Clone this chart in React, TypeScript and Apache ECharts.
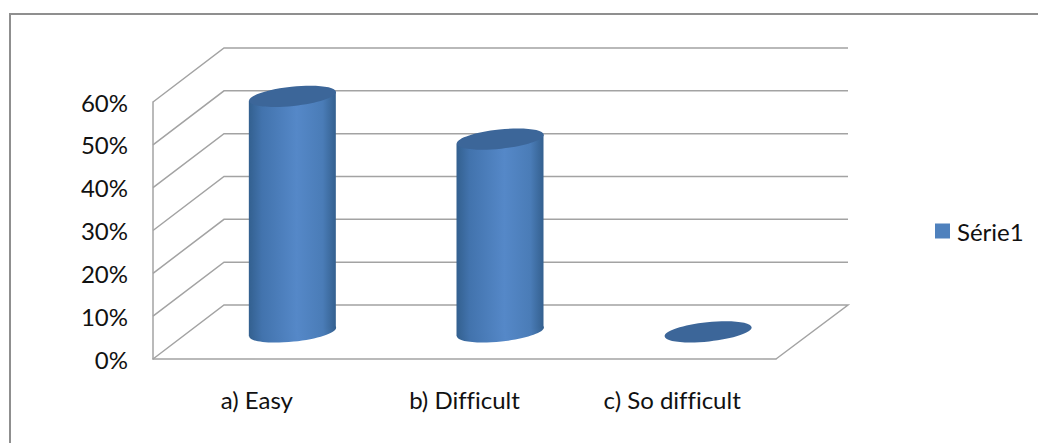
import React, { useEffect, useRef } from "react";
import * as echarts from "echarts";

const categories = ["a) Easy", "b) Difficult", "c) So difficult"];
const seriesName = "Série1";
const seriesValues = [0.55, 0.45, 0];
const gridTicks = [0, 0.1, 0.2, 0.3, 0.4, 0.5, 0.6];

const FONT = "Lato, 'Open Sans', sans-serif";
const DEPTH_X = 71;
const DEPTH_Y = -54;
const LINE = "#a3a3a3";

export default function App() {
  const ref = useRef<HTMLDivElement>(null);
  useEffect(() => {
    const chart = echarts.init(ref.current!, undefined, { renderer: "svg" });
    const bodyFill = () =>
      new echarts.graphic.LinearGradient(0, 0, 1, 0, [
        { offset: 0, color: "#33608f" },
        { offset: 0.15, color: "#4273ad" },
        { offset: 0.55, color: "#5588c8" },
        { offset: 0.85, color: "#4a7cb7" },
        { offset: 1, color: "#34608f" },
      ]);
    chart.setOption({
      animation: false,
      backgroundColor: "#ffffff",
      grid: { left: 153, right: 262, top: 102, bottom: 84 },
      xAxis: {
        type: "category",
        data: categories,
        axisLine: { show: true, lineStyle: { color: LINE, width: 1.5 } },
        axisTick: { show: false },
        axisLabel: { color: "#111", fontFamily: FONT, fontSize: 24, margin: 28 },
      },
      yAxis: {
        type: "value",
        min: 0,
        max: 0.6,
        interval: 0.1,
        axisLine: { show: true, lineStyle: { color: LINE, width: 1.5 } },
        axisTick: { show: false },
        splitLine: { show: false },
        axisLabel: {
          color: "#111",
          fontFamily: FONT,
          fontSize: 24,
          margin: 25,
          padding: [6, 0, 0, 0],
          formatter: (v: number) => `${Math.round(v * 100)}%`,
        },
      },
      legend: {
        data: [{ name: seriesName, icon: "rect" }],
        left: 930,
        top: 214,
        itemWidth: 15,
        itemHeight: 15,
        textStyle: { color: "#111", fontFamily: FONT, fontSize: 24, padding: [0, 0, 0, 2] },
      },
      graphic: [
        {
          type: "polyline",
          silent: true,
          shape: { points: [[10, 443], [10, 14], [1038, 14]] },
          style: { stroke: "#8f8f8f", lineWidth: 2, fill: "none" },
        },
      ],
      series: [
        {
          type: "custom",
          name: "walls",
          coordinateSystem: "cartesian2d",
          silent: true,
          clip: false,
          z: 1,
          data: gridTicks.map((t) => [0, t]),
          encode: { x: 0, y: 1 },
          renderItem: (_p: any, api: any) => {
            const v = api.value(1);
            const p = api.coord([0, v]);
            const x0 = p[0] - api.size([1, 0])[0] / 2;
            const xEnd = x0 + api.size([1, 0])[0] * categories.length;
            const pts = [
              [x0, p[1]],
              [x0 + DEPTH_X, p[1] + DEPTH_Y],
              [xEnd + DEPTH_X + 1, p[1] + DEPTH_Y],
            ];
            if (v === 0) pts.push([xEnd, p[1]]);
            return {
              type: "polyline",
              shape: { points: pts },
              style: { stroke: LINE, lineWidth: 1.5, fill: "none" },
            };
          },
        },
        {
          type: "custom",
          name: seriesName,
          coordinateSystem: "cartesian2d",
          clip: false,
          z: 2,
          itemStyle: { color: "#4f81bd" },
          data: seriesValues.map((v, i) => [i, v]),
          encode: { x: 0, y: 1 },
          renderItem: (_p: any, api: any) => {
            const i = api.value(0);
            const base = api.coord([i, 0]);
            const top = api.coord([i, api.value(1)]);
            const cx = base[0] + DEPTH_X / 2;
            const by = base[1] + DEPTH_Y / 2;
            const ty = top[1] + DEPTH_Y / 2;
            const rx = 43.7;
            const ry = 9.6;
            const rot = (6 * Math.PI) / 180;
            const hw = 43.5;
            const tilt = 4.3;
            const children: any[] = [];
            if (api.value(1) > 0) {
              children.push(
                {
                  type: "ellipse",
                  shape: { cx, cy: by, rx, ry },
                  rotation: rot,
                  originX: cx,
                  originY: by,
                  style: { fill: bodyFill() },
                },
                {
                  type: "polygon",
                  shape: {
                    points: [
                      [cx - hw, ty + tilt],
                      [cx + hw, ty - tilt],
                      [cx + hw, by - tilt],
                      [cx - hw, by + tilt],
                    ],
                  },
                  style: { fill: bodyFill() },
                }
              );
            }
            children.push({
              type: "ellipse",
              shape: { cx, cy: ty, rx, ry },
              rotation: rot,
              originX: cx,
              originY: ty,
              style: { fill: "#3c6699" },
            });
            return { type: "group", children };
          },
        },
      ],
    });
    return () => chart.dispose();
  }, []);
  return (
    <div
      ref={ref}
      style={{
        position: "absolute",
        left: 0,
        top: 0,
        width: 1038,
        height: 443,
        fontVariantLigatures: "none",
      }}
    />
  );
}
